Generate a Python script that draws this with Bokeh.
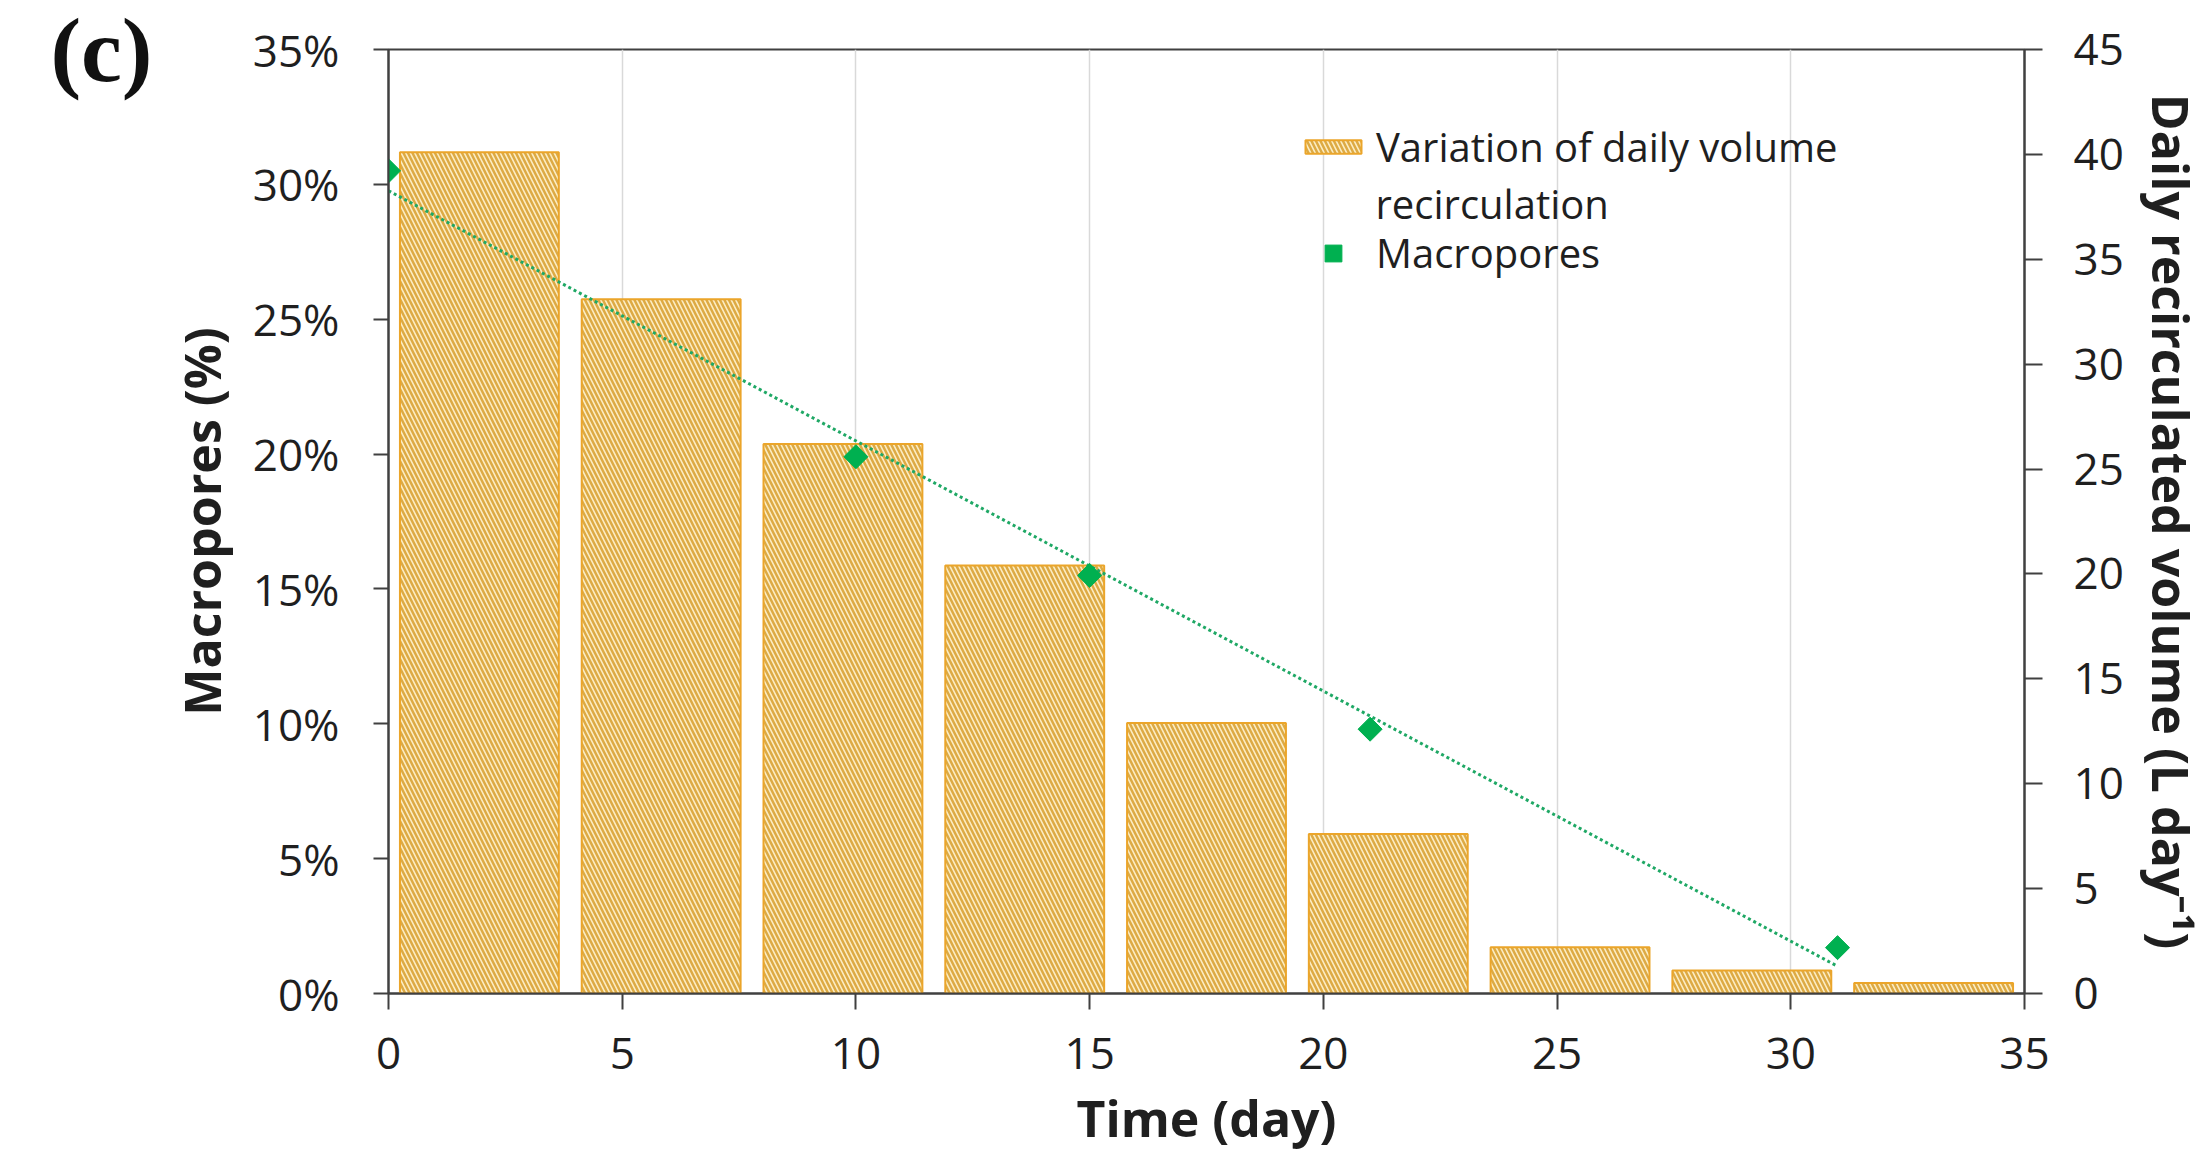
import numpy as np
from bokeh.plotting import figure
from bokeh.models import (Range1d, LinearAxis, FixedTicker, PrintfTickFormatter,
                          ColumnDataSource, Legend, LegendItem, Label)
from bokeh.embed import file_html
from bokeh.resources import INLINE

# ---------------- data ----------------
bar_volume = [40.1, 33.1, 26.2, 20.4, 12.9, 7.6, 2.2, 1.1, 0.5]   # L day-1
macro_day = [0, 10, 15, 21, 31]
macro_pct = [30.5, 19.9, 15.5, 9.8, 1.7]                           # %
x_ticks = [0, 5, 10, 15, 20, 25, 30, 35]
left_ticks = [0, 5, 10, 15, 20, 25, 30, 35]
right_ticks = [0, 5, 10, 15, 20, 25, 30, 35, 40, 45]
x_grid_ticks = [5, 10, 15, 20, 25, 30]

# ---------------- styling ----------------
FONT = "Open Sans"
TXT = "#1f1f1f"
AX = "#404040"
BAR_FILL = "#FCEDC4"
BAR_HATCH = "#DDAA44"
BAR_LINE = "#EBA52A"
GREEN = "#00B050"
TREND = "#1FA865"

n = len(bar_volume)
pitch = 35 / n
bar_src = ColumnDataSource(dict(x=[(i + 0.5) * pitch for i in range(n)], top=bar_volume))
pt_src = ColumnDataSource(dict(x=macro_day, y=macro_pct))
coef = np.polyfit(macro_day, macro_pct, 1)
tx = [float(min(macro_day)), float(max(macro_day))]
trend_src = ColumnDataSource(dict(x=tx, y=[float(v) for v in np.polyval(coef, tx)]))

p = figure(width=2208, height=1157, x_range=Range1d(0, 35), y_range=Range1d(0, 35),
           output_backend="svg", toolbar_location=None,
           min_border_left=388, min_border_right=184, min_border_top=49, min_border_bottom=164,
           background_fill_color="white", border_fill_color="white",
           outline_line_color=AX, outline_line_width=2)
p.extra_y_ranges = {"vol": Range1d(0, 45), "tag": Range1d(0, 1)}

# grid
p.ygrid.visible = False
p.xgrid.ticker = FixedTicker(ticks=x_grid_ticks)
p.xgrid.grid_line_color = "#D9D9D9"
p.xgrid.grid_line_width = 1.5

# bars
bars = p.vbar(x="x", top="top", width=pitch * 0.874, bottom=0, source=bar_src, y_range_name="vol",
              fill_color=BAR_FILL, line_color=BAR_LINE, line_width=2,
              hatch_pattern="\\", hatch_color=BAR_HATCH, hatch_weight=2.5, hatch_scale=9)

# trendline + points
p.line(x="x", y="y", source=trend_src, line_color=TREND, line_width=3, line_dash="3 3")
pts = p.scatter(x="x", y="y", source=pt_src, marker="square", angle=np.pi / 4, size=17,
                fill_color=GREEN, line_color=GREEN)

# axes
def style_axis(ax, tick_out, standoff):
    ax.axis_line_color = AX
    ax.axis_line_width = 2
    ax.major_tick_line_color = AX
    ax.major_tick_line_width = 2
    ax.major_tick_out = tick_out
    ax.major_tick_in = 0
    ax.minor_tick_line_color = None
    ax.major_label_text_font = FONT
    ax.major_label_text_font_size = "44px"
    ax.major_label_text_color = TXT
    ax.major_label_standoff = standoff
    ax.axis_label_text_font = FONT
    ax.axis_label_text_font_size = "50px"
    ax.axis_label_text_font_style = "bold"
    ax.axis_label_text_color = TXT

xa = p.xaxis[0]
xa.ticker = FixedTicker(ticks=x_ticks)
style_axis(xa, 16, 28)
xa.axis_label = "Time (day)"
xa.axis_label_standoff = 12

ya = p.yaxis[0]
ya.ticker = FixedTicker(ticks=left_ticks)
ya.formatter = PrintfTickFormatter(format="%d%%")
style_axis(ya, 15, 34)
ya.axis_label = "Macropores (%)"
ya.axis_label_standoff = 14

# right axis with its title
ra = LinearAxis(y_range_name="vol", ticker=FixedTicker(ticks=right_ticks))
style_axis(ra, 18, 31)
ra.axis_label = "Daily recirculated volume (L day\u207b\u00b9)"
ra.axis_label_standoff = 10
p.add_layout(ra, "right")

# panel tag "(c)" as the label of a bare outer left axis
tag = LinearAxis(y_range_name="tag", ticker=FixedTicker(ticks=[]))
tag.axis_line_color = None
tag.major_tick_line_color = None
tag.minor_tick_line_color = None
tag.major_label_text_font_size = "0px"
tag.axis_label = "(c)"
tag.axis_label_text_font = "Liberation Serif"
tag.axis_label_text_font_size = "92px"
tag.axis_label_text_font_style = "bold"
tag.axis_label_text_color = "#111111"
tag.axis_label_standoff = 12
if "axis_label_orientation" in tag.properties():
    tag.axis_label_orientation = "horizontal"
if "axis_label_align" in tag.properties():
    for val in ("end", "right"):
        try:
            tag.axis_label_align = val
            break
        except Exception:
            pass
p.add_layout(tag, "left")

# legends
common = dict(padding=0, margin=0, spacing=0, border_line_color=None,
              background_fill_alpha=0, glyph_width=70, label_standoff=8,
              label_text_font=FONT, label_text_font_size="40px", label_text_color=TXT)
leg_a = Legend(items=[LegendItem(label="Variation of daily volume", renderers=[bars])],
               location=(910, 818), glyph_height=17, label_height=57, **common)
leg_b = Legend(items=[LegendItem(label="Macropores", renderers=[pts])],
               location=(910, 713), glyph_height=42, label_height=54, **common)
p.add_layout(leg_a)
p.add_layout(leg_b)

# second line of the bar legend entry
p.add_layout(Label(x=987, y=790, x_units="screen", y_units="screen", text="recirculation",
                   text_font=FONT, text_font_size="40px", text_color=TXT,
                   text_align="left", text_baseline="middle"))

open("out.html", "w").write(file_html(p, INLINE))
